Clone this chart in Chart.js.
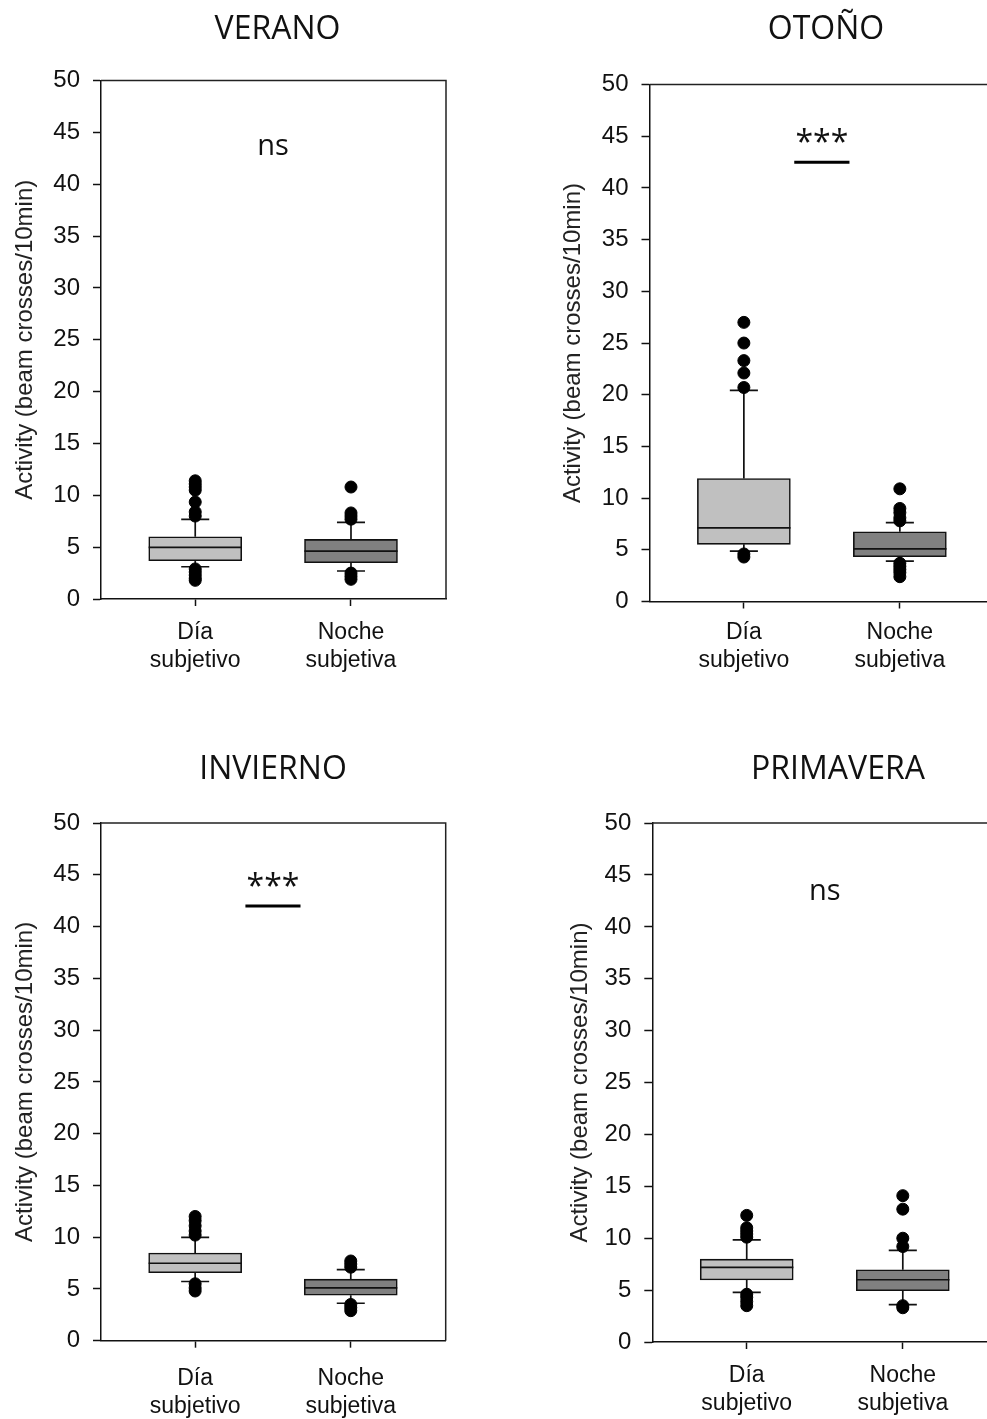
<!DOCTYPE html>
<html lang="es">
<head>
<meta charset="utf-8">
<title>Actividad por estación</title>
<script src="https://cdn.jsdelivr.net/npm/chart.js@4.4.1/dist/chart.umd.min.js"></script>
<style>
  html, body { margin: 0; padding: 0; background: #fff; overflow: hidden; }
  #fig { position: relative; width: 987px; height: 1419px; overflow: hidden; background: #fff; }
  #fig canvas { position: absolute; }
</style>
</head>
<body>
<div id="fig"></div>
<script>
// ---- data ---------------------------------------------------------------
const seasons = ['VERANO', 'OTOÑO', 'INVIERNO', 'PRIMAVERA'];
const categoryLabels = [['Día', 'subjetivo'], ['Noche', 'subjetiva']];
const categoryPositions = [1, 2];
const yTickValues = [0, 5, 10, 15, 20, 25, 30, 35, 40, 45, 50];

// one row per season, [Día subjetivo, Noche subjetiva]
const whiskerLow  = [[3.11, 2.70], [4.88, 3.91], [5.72, 3.62], [4.79, 3.61]];
const boxQ1       = [[3.69, 3.50], [5.53, 4.33], [6.56, 4.39], [5.97, 4.94]];
const boxMedian   = [[4.98, 4.62], [7.13, 5.10], [7.48, 5.11], [7.19, 6.00]];
const boxQ3       = [[6.00, 5.75], [11.90, 6.75], [8.47, 5.95], [7.98, 6.96]];
const whiskerHigh = [[7.68, 7.39], [20.43, 7.62], [9.99, 6.86], [9.85, 8.82]];
const outliers = [
  [[11.4, 11.1, 10.8, 10.5, 9.35, 8.4, 8.0, 2.9, 2.6, 2.3, 2.0, 1.8], [10.8, 8.3, 8.0, 7.7, 2.5, 2.2, 1.9]],
  [[27.0, 25.0, 23.3, 22.1, 20.7, 4.6, 4.3], [10.9, 9.0, 8.6, 8.1, 7.8, 3.7, 3.4, 3.1, 2.8, 2.4]],
  [[12.0, 11.6, 11.1, 10.6, 10.2, 5.5, 5.1, 4.8], [7.7, 7.4, 7.1, 3.5, 3.2, 2.9]],
  [[12.2, 11.0, 10.7, 10.4, 10.1, 4.6, 4.3, 3.9, 3.5], [14.1, 12.8, 10.0, 9.2, 3.5, 3.3]]
];

// significance annotation per season
const sigLabel = ['ns', '***', '***', 'ns'];
const sigLabelY = [43.6, 44.3, 43.7, 43.4];
const sigBarY = [null, 42.5, 42.0, null];

// ---- style & layout -----------------------------------------------------
const boxColors = ['#c0c0c0', '#808080'];
const X_MIN = 0.395, X_MAX = 2.61;
const HALF_BOX = 0.299;   // half box width, x units
const CAP = 0.09;         // half whisker-cap width, x units
const SIG_HALF = 0.177;   // half width of the significance bar
const SIG_CENTER = 1.5;

const AXIS_FONT = 'Liberation Sans, Arial, sans-serif';
const TITLE_FONT = 'Open Sans, sans-serif';

const panels = [
  { left: 0,   top: 0,   width: 555, height: 700, yAxisWidth: 101,   rightGap: 109,   titleTop: 10.5, titleBottom: 31.7, xAxisHeight: 101,  yTitlePad: 10.6, xLabelPad: 13 },
  { left: 550, top: 0,   width: 552, height: 700, yAxisWidth: 99.5,  rightGap: 107,   titleTop: 11.1, titleBottom: 35.1, xAxisHeight: 98.5, yTitlePad: 8.6,  xLabelPad: 10.5 },
  { left: 0,   top: 740, width: 546, height: 679, yAxisWidth: 101,   rightGap: 100.3, titleTop: 11.1, titleBottom: 33.6, xAxisHeight: 78.3, yTitlePad: 10.6, xLabelPad: 17.3 },
  { left: 550, top: 740, width: 576, height: 679, yAxisWidth: 102.3, rightGap: 128,   titleTop: 11.1, titleBottom: 33.6, xAxisHeight: 77,   yTitlePad: 16.4, xLabelPad: 13 }
];

// frame (top + right) and significance label
const panelFrame = {
  id: 'panelFrame',
  afterDatasetsDraw(chart, args, opts) {
    const { ctx, chartArea: a } = chart;
    ctx.save();
    ctx.strokeStyle = '#222';
    ctx.lineWidth = 1.5;
    ctx.beginPath();
    ctx.moveTo(a.left, a.top);
    ctx.lineTo(a.right, a.top);
    ctx.lineTo(a.right, a.bottom);
    ctx.stroke();
    const xs = chart.scales.x, ys = chart.scales.y;
    ctx.font = (opts.text === 'ns' ? '29px ' : '32px ') + TITLE_FONT;
    ctx.fillStyle = '#111';
    ctx.textAlign = 'center';
    ctx.textBaseline = 'middle';
    ctx.fillText(opts.text, xs.getPixelForValue(SIG_CENTER), ys.getPixelForValue(opts.y));
    ctx.restore();
  }
};

const fig = document.getElementById('fig');

seasons.forEach((season, i) => {
  const P = panels[i];
  const canvas = document.createElement('canvas');
  canvas.width = P.width;
  canvas.height = P.height;
  canvas.style.left = P.left + 'px';
  canvas.style.top = P.top + 'px';
  canvas.style.width = P.width + 'px';
  canvas.style.height = P.height + 'px';
  fig.appendChild(canvas);

  const boxes = categoryPositions.map((x, c) => ({ x, y: [boxQ1[i][c], boxQ3[i][c]] }));

  const segments = [];
  const seg = (x0, y0, x1, y1) => segments.push({ x: x0, y: y0 }, { x: x1, y: y1 }, { x: x1, y: null });
  categoryPositions.forEach((x, c) => {
    seg(x, boxQ3[i][c], x, whiskerHigh[i][c]);
    seg(x - CAP, whiskerHigh[i][c], x + CAP, whiskerHigh[i][c]);
    seg(x, boxQ1[i][c], x, whiskerLow[i][c]);
    seg(x - CAP, whiskerLow[i][c], x + CAP, whiskerLow[i][c]);
    seg(x - HALF_BOX, boxMedian[i][c], x + HALF_BOX, boxMedian[i][c]);
  });

  const points = [];
  categoryPositions.forEach((x, c) => outliers[i][c].forEach(v => points.push({ x, y: v })));

  const sigBar = sigBarY[i] == null ? [] :
    [{ x: SIG_CENTER - SIG_HALF, y: sigBarY[i] }, { x: SIG_CENTER + SIG_HALF, y: sigBarY[i] }];

  new Chart(canvas, {
    type: 'bar',
    data: {
      datasets: [
        {
          type: 'bar',
          data: boxes,
          backgroundColor: boxColors,
          borderColor: '#111',
          borderWidth: 1.6,
          borderSkipped: false,
          barThickness: 93,
          order: 3
        },
        {
          type: 'line',
          data: segments,
          borderColor: '#111',
          borderWidth: 1.7,
          pointRadius: 0,
          spanGaps: false,
          tension: 0,
          order: 2
        },
        {
          type: 'scatter',
          data: points,
          backgroundColor: '#000',
          borderColor: '#000',
          pointRadius: 6,
          pointHoverRadius: 6,
          order: 1
        },
        {
          type: 'line',
          data: sigBar,
          borderColor: '#000',
          borderWidth: 3,
          pointRadius: 0,
          order: 0
        }
      ]
    },
    options: {
      responsive: false,
      animation: false,
      devicePixelRatio: 1,
      layout: { padding: 0 },
      plugins: {
        legend: { display: false },
        tooltip: { enabled: false },
        title: {
          display: true,
          text: season,
          color: '#111',
          font: { family: TITLE_FONT, size: 32, weight: 'normal', lineHeight: 1.2 },
          padding: { top: P.titleTop, bottom: P.titleBottom }
        },
        panelFrame: { text: sigLabel[i], y: sigLabelY[i] }
      },
      scales: {
        x: {
          type: 'linear',
          offset: false,
          min: X_MIN,
          max: X_MAX,
          afterBuildTicks: s => { s.ticks = categoryPositions.map(v => ({ value: v })); },
          afterFit: s => { s.height = P.xAxisHeight; },
          ticks: {
            callback: v => categoryLabels[categoryPositions.indexOf(v)],
            color: '#111',
            font: { family: AXIS_FONT, size: 23, lineHeight: 1.22 },
            padding: P.xLabelPad,
            maxRotation: 0,
            autoSkip: false
          },
          grid: { offset: false, drawOnChartArea: false, drawTicks: true, tickLength: 7, color: '#111', tickWidth: 1.5 },
          border: { display: true, color: '#111', width: 1.5 }
        },
        y: {
          type: 'linear',
          position: 'left',
          min: 0,
          max: 50,
          afterBuildTicks: s => { s.ticks = yTickValues.map(v => ({ value: v })); },
          afterFit: s => { s.width = P.yAxisWidth; },
          ticks: {
            color: '#111',
            font: { family: AXIS_FONT, size: 24 },
            padding: 13
          },
          grid: { drawOnChartArea: false, drawTicks: true, tickLength: 8, color: '#111', tickWidth: 1.5 },
          border: { display: true, color: '#111', width: 1.5 },
          title: {
            display: true,
            text: 'Activity (beam crosses/10min)',
            color: '#222',
            font: { family: AXIS_FONT, size: 24, lineHeight: 1.2 },
            padding: { top: P.yTitlePad, bottom: 0 }
          }
        },
        yRight: {
          type: 'linear',
          position: 'right',
          display: true,
          afterFit: s => { s.width = P.rightGap; },
          ticks: { display: false },
          grid: { display: false },
          border: { display: false }
        }
      }
    },
    plugins: [panelFrame]
  });
});
</script>
</body>
</html>
